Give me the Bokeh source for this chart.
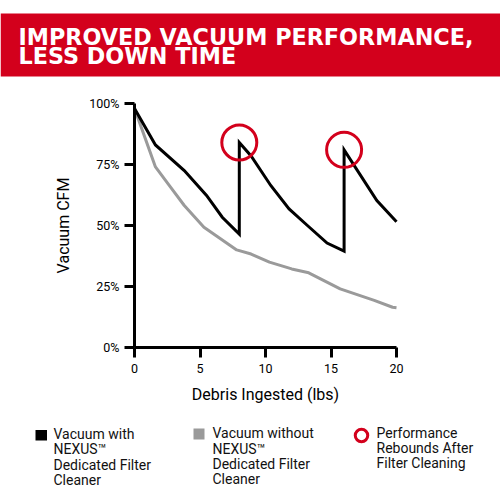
from bokeh.plotting import figure
from bokeh.models import Range1d, FixedTicker, LinearAxis
from bokeh.core.properties import value
from bokeh.embed import file_html
from bokeh.resources import INLINE

# ---- data -------------------------------------------------------------
debris_with = [0, 1.6, 3.8, 5.5, 6.7, 8, 8, 8.9, 10.4, 11.8, 13.2, 14.7, 16, 16, 18.5, 20]
cfm_with = [98, 83, 72.5, 62.3, 53.4, 46.5, 84, 78.5, 66.4, 56.8, 50, 42.8, 39.5, 81, 60.2, 51.5]

debris_without = [0, 1.6, 2.75, 3.8, 5.3, 7.8, 8.9, 10.3, 12, 13.3, 15.7, 18.3, 19.7, 20]
cfm_without = [98, 74, 65.7, 58.2, 49.3, 40, 38.3, 35, 32.2, 30.6, 24, 19.3, 16.5, 16.3]

# filter cleanings: the peaks right after each jump in the NEXUS series
rebound_idx = [6, 13]
rebound_x = [debris_with[i] for i in rebound_idx]
rebound_y = [cfm_with[i] for i in rebound_idx]

x_ticks = [0, 5, 10, 15, 20]
y_ticks = [0, 25, 50, 75, 100]
y_tick_labels = ["0%", "25%", "50%", "75%", "100%"]
X_MIN, X_MAX = 0, 20
Y_MIN, Y_MAX = 0, 100

title_lines = ["IMPROVED VACUUM PERFORMANCE,", "LESS DOWN TIME"]
legend_with = ["Vacuum with", "NEXUS\u2122", "Dedicated Filter", "Cleaner"]
legend_without = ["Vacuum without", "NEXUS\u2122", "Dedicated Filter", "Cleaner"]
legend_rebound = ["Performance", "Rebounds After", "Filter Cleaning"]

RED = "#d3001c"
GRAY = "#9a9a9a"
BLACK = "#000000"
BODY_FONT = "Roboto"
HEAVY_FONT = "DejaVu Sans"

# ---- layout: the axes box sits inside a full-canvas frame ---------------
W = H = 500
AX_L, AX_R, AX_T, AX_B = 134, 396, 103, 347      # canvas pixels of the axes box
kx = (AX_R - AX_L) / (X_MAX - X_MIN)
ky = (AX_B - AX_T) / (Y_MAX - Y_MIN)
x_range = Range1d(X_MIN - AX_L / kx, X_MAX + (W - AX_R) / kx)
y_range = Range1d(Y_MIN - (H - AX_B) / ky, Y_MAX + AX_T / ky)


def cx(px):
    """canvas x (pixels from left) -> x coordinate"""
    return X_MIN + (px - AX_L) / kx


def cy(py):
    """canvas y (pixels from top) -> y coordinate"""
    return Y_MIN + (AX_B - py) / ky


p = figure(width=W, height=H, x_range=x_range, y_range=y_range, title=None,
           output_backend="svg", toolbar_location=None,
           x_axis_location=None, y_axis_location=None, min_border=0)
p.grid.visible = False
p.outline_line_color = None

# ---- header band --------------------------------------------------------
p.quad(left=cx(0), right=cx(W), top=cy(13), bottom=cy(76), fill_color=RED, line_color=None)
p.text(x=[cx(18)] * 2, y=[cy(36), cy(55)], text=title_lines, text_color="white",
       text_font=value(HEAVY_FONT), text_font_style="bold", text_font_size="22.3px",
       text_baseline="middle", text_align="left")

# ---- series -------------------------------------------------------------
p.line(debris_without, cfm_without, line_color=GRAY, line_width=3, line_join="round")
p.line(debris_with, cfm_with, line_color=BLACK, line_width=3, line_join="miter")
p.scatter(rebound_x, rebound_y, marker="circle", size=35, fill_color=None,
          line_color=RED, line_width=3)

# ---- axes ---------------------------------------------------------------
xaxis = LinearAxis(fixed_location=Y_MIN, bounds=(X_MIN, X_MAX),
                   ticker=FixedTicker(ticks=x_ticks), axis_label="Debris Ingested (lbs)")
yaxis = LinearAxis(fixed_location=X_MIN, bounds=(Y_MIN, Y_MAX),
                   ticker=FixedTicker(ticks=y_ticks), axis_label="Vacuum CFM",
                   major_label_overrides=dict(zip(y_ticks, y_tick_labels)))
for ax in (xaxis, yaxis):
    ax.axis_line_width = 3
    ax.axis_line_color = BLACK
    ax.major_tick_line_width = 3
    ax.major_tick_line_color = BLACK
    ax.major_tick_out = 10
    ax.major_tick_in = 0
    ax.minor_tick_line_color = None
    ax.major_label_text_font = BODY_FONT
    ax.major_label_text_font_size = "12.5px"
    ax.major_label_text_color = BLACK
    ax.axis_label_text_font = BODY_FONT
    ax.axis_label_text_font_size = "16px"
    ax.axis_label_text_font_style = "normal"
    ax.axis_label_text_color = BLACK
yaxis.major_label_standoff = 5
xaxis.major_label_standoff = 6
yaxis.axis_label_standoff = 13
xaxis.axis_label_standoff = 9
p.add_layout(xaxis, "below")
p.add_layout(yaxis, "left")

# ---- legend -------------------------------------------------------------
p.quad(left=cx(35), right=cx(46.5), top=cy(429.5), bottom=cy(440), fill_color=BLACK, line_color=None)
p.quad(left=cx(193), right=cx(204), top=cy(428), bottom=cy(439), fill_color=GRAY, line_color=None)
p.scatter([cx(361)], [cy(435)], marker="circle", size=12.5, fill_color=None,
          line_color=RED, line_width=3)

STEP = 15.3
for x0, y0, lines in ((53, 433.5, legend_with), (212, 432.8, legend_without),
                      (376, 432.2, legend_rebound)):
    p.text(x=[cx(x0)] * len(lines), y=[cy(y0 + i * STEP) for i in range(len(lines))],
           text=lines, text_color="#111111", text_font=value(BODY_FONT),
           text_font_size="14px", text_baseline="middle", text_align="left")

open("out.html", "w").write(file_html(p, INLINE))
